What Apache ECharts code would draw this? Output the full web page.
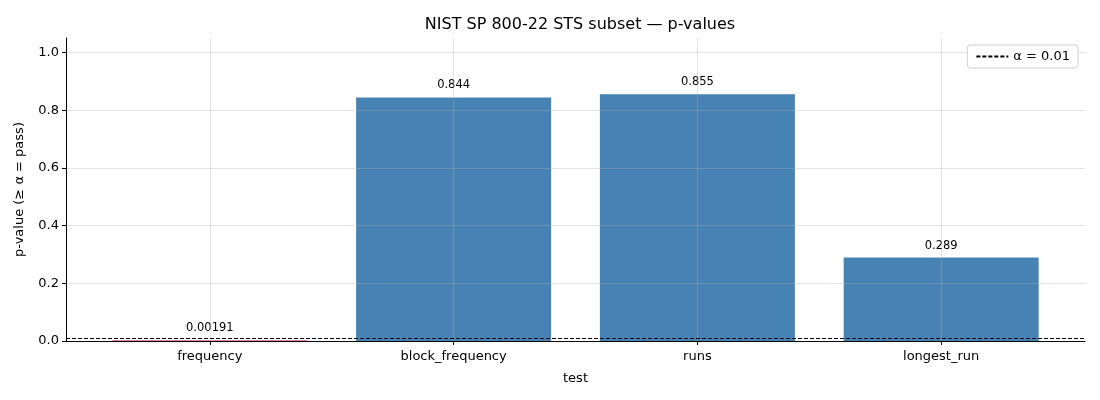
<!DOCTYPE html>
<html>
<head>
<meta charset="utf-8">
<script src="https://cdn.jsdelivr.net/npm/echarts@6/dist/echarts.min.js"></script>
<style>
  html, body { margin: 0; padding: 0; background: #fff; }
  #chart { width: 1100px; height: 400px; }
</style>
</head>
<body>
<div id="chart"></div>
<script>
const tests = ['frequency', 'block_frequency', 'runs', 'longest_run']
const pvalues = [0.00191, 0.844, 0.855, 0.289]
const ALPHA = 0.01
const yTicks = [0, 0.2, 0.4, 0.6, 0.8, 1.0]

const font = 'DejaVu Sans'
const passColor = '#4682b4'
const failColor = '#dc143c'

const barData = pvalues.map((v, i) => ({
    value: [i, v],
    itemStyle: { color: v < ALPHA ? failColor : passColor }
}))

const myChart = echarts.init(document.getElementById('chart'))

const option = {
    animation: false,
    textStyle: { fontFamily: font },
    title: {
        text: 'NIST SP 800-22 STS subset — p-values',
        left: 575, top: 12, textAlign: 'center',
        textStyle: { fontFamily: font, fontSize: 16, fontWeight: 'normal', color: '#000' }
    },
    legend: {
        right: 22, top: 45,
        data: ['α = 0.01'],
        itemWidth: 32, itemHeight: 10,
        padding: [5, 8],
        borderColor: '#d0d0d0', borderWidth: 1, borderRadius: 3,
        backgroundColor: '#fff',
        itemStyle: { opacity: 0 },
        textStyle: { fontFamily: font, fontSize: 13, color: '#000' }
    },
    grid: { left: 66, right: 15, top: 38, bottom: 59 },
    xAxis: {
        type: 'value',
        min: -0.59, max: 3.59,
        z: 3,
        name: 'test', nameLocation: 'middle', nameGap: 31,
        nameTextStyle: { fontFamily: font, fontSize: 13, color: '#000' },
        axisLine: { show: true, onZero: false, lineStyle: { color: '#000', width: 1 } },
        axisTick: { show: true, customValues: [0, 1, 2, 3], length: 4, inside: false, lineStyle: { color: '#000' } },
        axisLabel: {
            customValues: [0, 1, 2, 3],
            formatter: v => tests[Math.round(v)],
            fontFamily: font, fontSize: 13, color: '#000', margin: 9
        },
        splitLine: { show: true, lineStyle: { color: 'rgba(176,176,176,0.35)', width: 1 } }
    },
    yAxis: {
        type: 'value',
        min: 0, max: 1.05,
        z: 3,
        name: 'p-value (≥ α = pass)', nameLocation: 'middle', nameGap: 40,
        nameTextStyle: { fontFamily: font, fontSize: 13, color: '#000' },
        axisLine: { show: true, onZero: false, lineStyle: { color: '#000', width: 1 } },
        axisTick: { show: true, customValues: yTicks, length: 4, lineStyle: { color: '#000' } },
        axisLabel: {
            customValues: yTicks,
            formatter: v => v.toFixed(1),
            fontFamily: font, fontSize: 13, color: '#000', margin: 7
        },
        splitLine: { show: true, lineStyle: { color: 'rgba(176,176,176,0.35)', width: 1 } }
    },
    series: [
        {
            type: 'bar',
            data: barData,
            barWidth: 195,
            z: 2,
            label: {
                show: true, position: 'top', distance: 6,
                formatter: p => String(Number(p.value[1].toPrecision(3))),
                fontFamily: font, fontSize: 11.5, color: '#000'
            }
        },
        {
            name: 'α = 0.01',
            type: 'line',
            data: [],
            symbol: 'none',
            z: 5,
            lineStyle: { color: '#000', width: 1, type: [4, 2] },
            itemStyle: { color: '#000' },
            markLine: {
                silent: true,
                symbol: 'none',
                label: { show: false },
                lineStyle: { color: '#000', width: 1, type: [4, 2] },
                data: [{ yAxis: ALPHA }]
            }
        }
    ]
}
myChart.setOption(option)
</script>
</body>
</html>
